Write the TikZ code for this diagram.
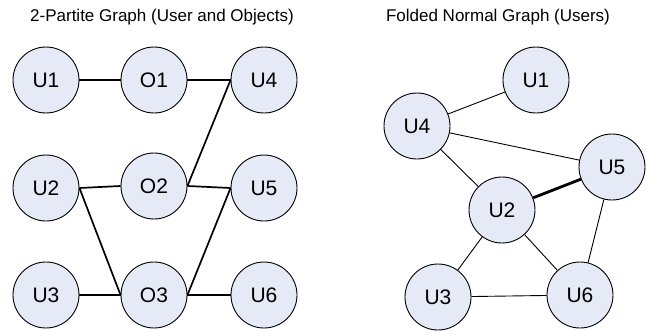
\documentclass[tikz,border=0pt]{standalone}
\usepackage{fontspec}
\setmainfont{Liberation Sans}
\definecolor{nodefill}{RGB}{230,234,246}

\begin{document}
\begin{tikzpicture}[
		x=1pt, y=-1pt,
		vertex/.style ={
			circle,		draw=black,		fill=nodefill,
			line width=0.9pt,	inner sep=0pt,	minimum size=66pt,
			font=\fontsize{21}{25}\selectfont
		},
		bipedge/.style ={line width=1.7pt},
		foldedge/.style={line width=0.9pt},
		heading/.style ={font=\fontsize{17}{20}\selectfont},
	]
	\useasboundingbox (0,0) rectangle (651,332);

	\newcommand{\lusr}{46}
	\newcommand{\lobj}{154}
	\newcommand{\lrgt}{264}

	% titles
	\node[heading] (titleL) at (162,17) {2-Partite Graph (User and Objects)};
	\node[heading] (titleR) at (498,17) {Folded Normal Graph (Users)};

	% 2-partite nodes
	\foreach \n/\y in {U1/80, U2/188, U3/295}
		\node (b\n) at (\lusr,\y) [vertex] {\n};
	\foreach \n/\y in {O1/80, O2/186, O3/295}
		\node (b\n) at (\lobj,\y) [vertex] {\n};
	\foreach \n/\y in {U4/80, U5/188, U6/295}
		\node (b\n) at (\lrgt,\y) [vertex] {\n};

	% 2-partite edges
	\foreach \a/\b in {U1/O1, U2/O2, U2/O3, U3/O3, O1/U4, O2/U4, O2/U5, O3/U5, O3/U6}
		\draw [bipedge] (b\a.east) -- (b\b.west);

	% folded nodes
	\node (fU1) at (536, 80) [vertex] {U1};
	\node (fU4) at (417,126) [vertex] {U4};
	\node (fU5) at (612,167) [vertex] {U5};
	\node (fU2) at (502,210) [vertex] {U2};
	\node (fU3) at (438,297) [vertex] {U3};
	\node (fU6) at (580,295) [vertex] {U6};

	% folded edges
	\foreach \a/\b in {U4/U1, U4/U5, U4/U2, U2/U3, U2/U6, U5/U6, U3/U6}
		\draw [foldedge] (f\a) -- (f\b);
	\draw [line width=2.8pt] (fU2) -- (fU5);

\end{tikzpicture}
\end{document}
